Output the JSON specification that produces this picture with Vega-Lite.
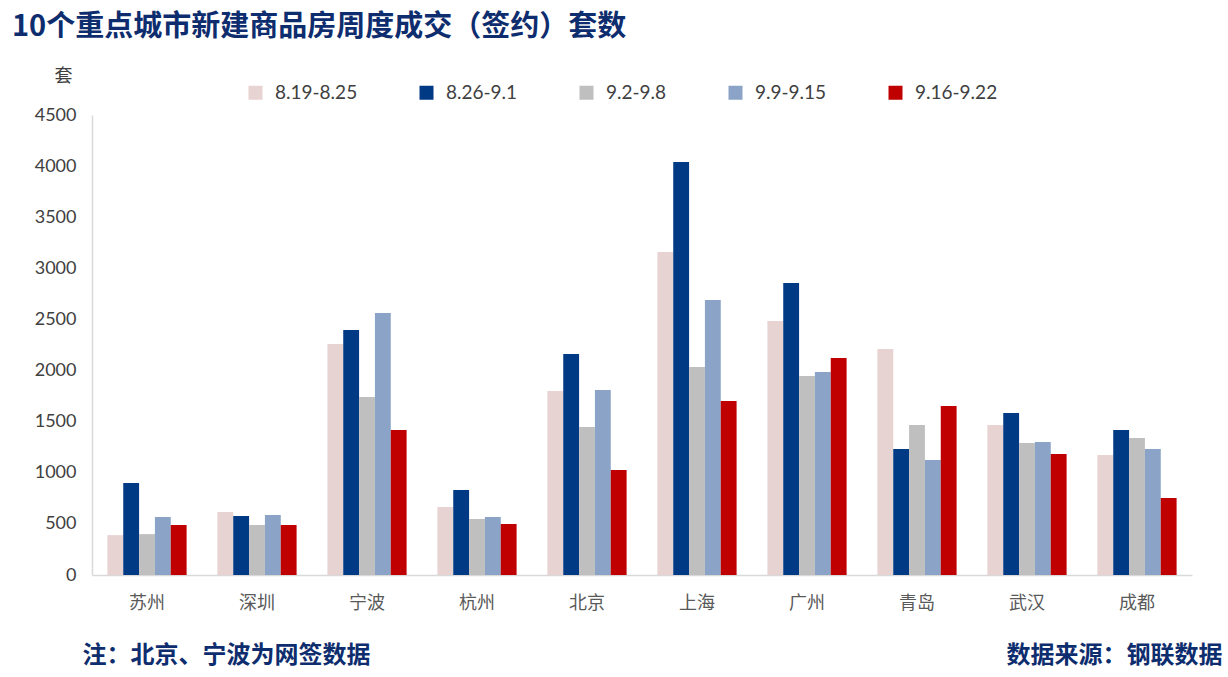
{
  "$schema": "https://vega.github.io/schema/vega-lite/v6.json",
  "width": 1100,
  "height": 460,
  "autosize": {"type": "none"},
  "padding": {"left": 92, "top": 115, "right": 36, "bottom": 102},
  "background": "white",
  "title": {
    "text": "10个重点城市新建商品房周度成交（签约）套数",
    "anchor": "start",
    "frame": "group",
    "dx": -80,
    "dy": -21,
    "font": "Noto Sans CJK SC",
    "fontSize": 29,
    "fontWeight": "bold",
    "color": "#0E2D6E"
  },
  "config": {
    "view": {"stroke": null},
    "axis": {"grid": false}
  },
  "data": {
    "values": [
      {"city": "苏州", "week": "8.19-8.25", "value": 390},
      {"city": "苏州", "week": "8.26-9.1", "value": 900},
      {"city": "苏州", "week": "9.2-9.8", "value": 400},
      {"city": "苏州", "week": "9.9-9.15", "value": 567},
      {"city": "苏州", "week": "9.16-9.22", "value": 489},
      {"city": "深圳", "week": "8.19-8.25", "value": 616},
      {"city": "深圳", "week": "8.26-9.1", "value": 577},
      {"city": "深圳", "week": "9.2-9.8", "value": 489},
      {"city": "深圳", "week": "9.9-9.15", "value": 587},
      {"city": "深圳", "week": "9.16-9.22", "value": 489},
      {"city": "宁波", "week": "8.19-8.25", "value": 2260},
      {"city": "宁波", "week": "8.26-9.1", "value": 2397},
      {"city": "宁波", "week": "9.2-9.8", "value": 1741},
      {"city": "宁波", "week": "9.9-9.15", "value": 2563},
      {"city": "宁波", "week": "9.16-9.22", "value": 1418},
      {"city": "杭州", "week": "8.19-8.25", "value": 665},
      {"city": "杭州", "week": "8.26-9.1", "value": 832},
      {"city": "杭州", "week": "9.2-9.8", "value": 548},
      {"city": "杭州", "week": "9.9-9.15", "value": 567},
      {"city": "杭州", "week": "9.16-9.22", "value": 499},
      {"city": "北京", "week": "8.19-8.25", "value": 1800},
      {"city": "北京", "week": "8.26-9.1", "value": 2162},
      {"city": "北京", "week": "9.2-9.8", "value": 1448},
      {"city": "北京", "week": "9.9-9.15", "value": 1810},
      {"city": "北京", "week": "9.16-9.22", "value": 1027},
      {"city": "上海", "week": "8.19-8.25", "value": 3160},
      {"city": "上海", "week": "8.26-9.1", "value": 4040},
      {"city": "上海", "week": "9.2-9.8", "value": 2035},
      {"city": "上海", "week": "9.9-9.15", "value": 2690},
      {"city": "上海", "week": "9.16-9.22", "value": 1702},
      {"city": "广州", "week": "8.19-8.25", "value": 2485},
      {"city": "广州", "week": "8.26-9.1", "value": 2857},
      {"city": "广州", "week": "9.2-9.8", "value": 1947},
      {"city": "广州", "week": "9.9-9.15", "value": 1986},
      {"city": "广州", "week": "9.16-9.22", "value": 2123},
      {"city": "青岛", "week": "8.19-8.25", "value": 2211},
      {"city": "青岛", "week": "8.26-9.1", "value": 1233},
      {"city": "青岛", "week": "9.2-9.8", "value": 1467},
      {"city": "青岛", "week": "9.9-9.15", "value": 1125},
      {"city": "青岛", "week": "9.16-9.22", "value": 1653},
      {"city": "武汉", "week": "8.19-8.25", "value": 1467},
      {"city": "武汉", "week": "8.26-9.1", "value": 1585},
      {"city": "武汉", "week": "9.2-9.8", "value": 1291},
      {"city": "武汉", "week": "9.9-9.15", "value": 1301},
      {"city": "武汉", "week": "9.16-9.22", "value": 1184},
      {"city": "成都", "week": "8.19-8.25", "value": 1174},
      {"city": "成都", "week": "8.26-9.1", "value": 1418},
      {"city": "成都", "week": "9.2-9.8", "value": 1340},
      {"city": "成都", "week": "9.9-9.15", "value": 1233},
      {"city": "成都", "week": "9.16-9.22", "value": 753}
    ]
  },
  "encoding": {
    "x": {
      "field": "city",
      "type": "nominal",
      "sort": ["苏州", "深圳", "宁波", "杭州", "北京", "上海", "广州", "青岛", "武汉", "成都"],
      "scale": {"paddingInner": 0.28, "paddingOuter": 0.14},
      "axis": {
        "title": "注：北京、宁波为网签数据",
        "titleFont": "Noto Sans CJK SC",
        "titleFontSize": 24,
        "titleFontWeight": "bold",
        "titleColor": "#0E2D6E",
        "titleAnchor": "start",
        "titleAlign": "left",
        "titleBaseline": "middle",
        "titleX": -10,
        "titleY": 80,
        "labelAngle": 0,
        "labelFont": "Noto Sans CJK SC",
        "labelFontSize": 18,
        "labelColor": "#595959",
        "labelPadding": 19,
        "ticks": false,
        "domainColor": "#D9D9D9",
        "domainWidth": 1.5
      }
    },
    "y": {
      "field": "value",
      "type": "quantitative",
      "scale": {"domain": [0, 4500], "nice": false},
      "axis": {
        "title": "套",
        "titleAngle": 0,
        "titleFont": "Noto Sans CJK SC",
        "titleFontSize": 18,
        "titleFontWeight": "normal",
        "titleColor": "#404040",
        "titleAlign": "center",
        "titleBaseline": "middle",
        "titleX": -29,
        "titleY": -39,
        "values": [0, 500, 1000, 1500, 2000, 2500, 3000, 3500, 4000, 4500],
        "format": "d",
        "labelFont": "Lato",
        "labelFontSize": 18,
        "labelColor": "#404040",
        "labelPadding": 16,
        "ticks": false,
        "domainColor": "#D9D9D9",
        "domainWidth": 1.5
      }
    }
  },
  "layer": [
    {
      "mark": {"type": "bar"},
      "encoding": {
        "xOffset": {
          "field": "week",
          "type": "nominal",
          "sort": ["8.19-8.25", "8.26-9.1", "9.2-9.8", "9.9-9.15", "9.16-9.22"],
          "scale": {"paddingInner": 0, "paddingOuter": 0}
        },
        "color": {
          "field": "week",
          "type": "nominal",
          "sort": ["8.19-8.25", "8.26-9.1", "9.2-9.8", "9.9-9.15", "9.16-9.22"],
          "scale": {
            "domain": ["8.19-8.25", "8.26-9.1", "9.2-9.8", "9.9-9.15", "9.16-9.22"],
            "range": ["#E8D3D3", "#003984", "#BFBFBF", "#8AA3C6", "#C00000"]
          },
          "legend": {
            "title": null,
            "orient": "none",
            "direction": "horizontal",
            "legendX": 154,
            "legendY": -32,
            "padding": 0,
            "symbolType": "square",
            "symbolSize": 196,
            "symbolStrokeWidth": 0,
            "labelFont": "Lato",
            "labelFontSize": 19,
            "labelColor": "#404040",
            "labelOffset": 10,
            "columnPadding": 59
          }
        }
      }
    },
    {
      "mark": {"type": "point", "opacity": 0},
      "encoding": {
        "y": {
          "field": "value",
          "type": "quantitative",
          "axis": {
            "orient": "right",
            "title": "数据来源：钢联数据",
            "titleAngle": 0,
            "titleFont": "Noto Sans CJK SC",
            "titleFontSize": 24,
            "titleFontWeight": "bold",
            "titleColor": "#0E2D6E",
            "titleAlign": "right",
            "titleBaseline": "middle",
            "titleX": 30,
            "titleY": 540,
            "labels": false,
            "ticks": false,
            "domain": false
          }
        }
      }
    }
  ],
  "resolve": {"axis": {"y": "independent"}}
}
